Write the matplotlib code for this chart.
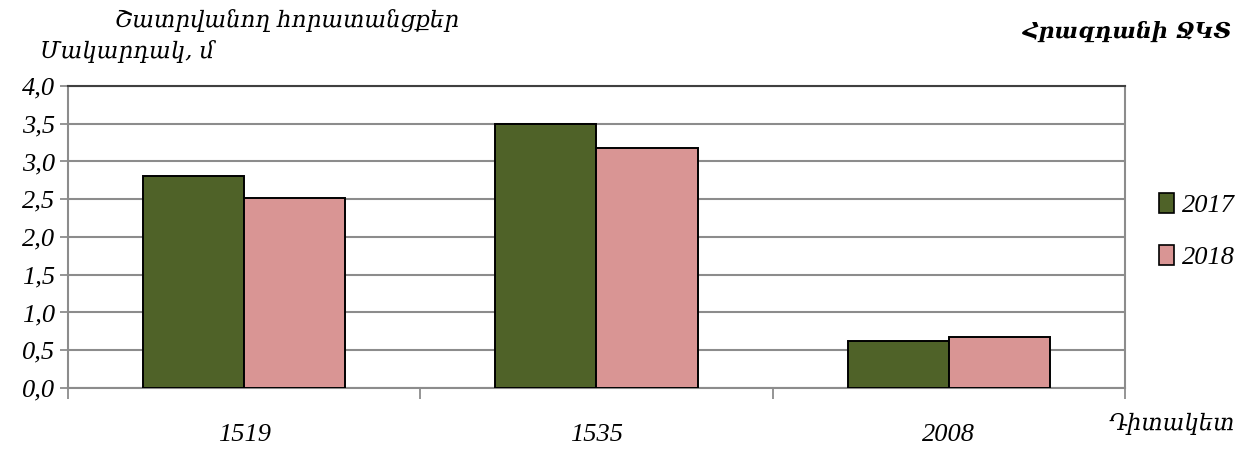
import matplotlib
matplotlib.use("Agg")
import matplotlib.pyplot as plt
import numpy as np

categories = ["1519", "1535", "2008"]
series_names = ["2017", "2018"]
values_2017 = [2.81, 3.50, 0.62]
values_2018 = [2.52, 3.18, 0.67]
yticks = [0.0, 0.5, 1.0, 1.5, 2.0, 2.5, 3.0, 3.5, 4.0]
ytick_labels = ["0,0", "0,5", "1,0", "1,5", "2,0", "2,5", "3,0", "3,5", "4,0"]

title_top = "Շատրվանող հորատանցքեր"
ylabel_text = "Մակարդակ, մ"
right_title = "Հրազդանի ՋԿՏ"
xlabel_text = "Դիտակետ"

colors = ["#4F6228", "#D99594"]
num_font = ["Liberation Serif", "DejaVu Serif"]
arm_font = ["DejaVu Serif"]

fig = plt.figure(figsize=(12.45, 4.5), dpi=100)
ax = fig.add_axes([0.0546, 0.1378, 0.849, 0.6712])

x = np.arange(len(categories))
w = 0.287
ax.bar(x - w / 2, values_2017, width=w, color=colors[0], edgecolor="black", linewidth=1.4, zorder=3, label=series_names[0])
ax.bar(x + w / 2, values_2018, width=w, color=colors[1], edgecolor="black", linewidth=1.4, zorder=3, label=series_names[1])

ax.set_xlim(-0.5, len(categories) - 0.5)
ax.set_ylim(0, 4.0)
ax.set_yticks(yticks)
ax.set_yticklabels(ytick_labels, family=num_font, style="italic", fontsize=19)
ax.yaxis.grid(True, color="#8c8c8c", linewidth=1.5, zorder=0)
ax.set_axisbelow(True)

ax.set_xticks(np.arange(-0.5, len(categories), 1.0))
ax.set_xticklabels([])
ax.set_xticks(x, minor=True)
ax.set_xticklabels(categories, minor=True, family=num_font, style="italic", fontsize=19)
ax.tick_params(axis="x", which="minor", length=0, pad=26)
ax.tick_params(axis="x", which="major", length=8, color="#8c8c8c", width=1.3)
ax.tick_params(axis="y", length=6, color="#8c8c8c", width=1.3, pad=3)

for s in ["left", "bottom", "right"]:
    ax.spines[s].set_color("#8c8c8c")
    ax.spines[s].set_linewidth(1.5)
ax.spines["top"].set_color("#404040")
ax.spines["top"].set_linewidth(1.5)

fig.text(0.092, 0.955, title_top, family=arm_font, style="italic", fontsize=16.5, ha="left", va="center")
fig.text(0.032, 0.885, ylabel_text, family=arm_font, style="italic", fontsize=16.5, ha="left", va="center")
fig.text(0.99, 0.93, right_title, family=arm_font, style="italic", weight="bold", fontsize=16, ha="right", va="center")
fig.text(0.992, 0.057, xlabel_text, family=arm_font, style="italic", fontsize=16.5, ha="right", va="center")

leg = ax.legend(loc="center left", bbox_to_anchor=(1.01, 0.52), frameon=False,
                prop={"family": num_font, "style": "italic", "size": 19},
                handlelength=0.55, handleheight=0.8, handletextpad=0.3, labelspacing=1.05)
for p in leg.get_patches():
    p.set_edgecolor("black")
    p.set_linewidth(1.2)

fig.savefig("out.png", dpi=100)
